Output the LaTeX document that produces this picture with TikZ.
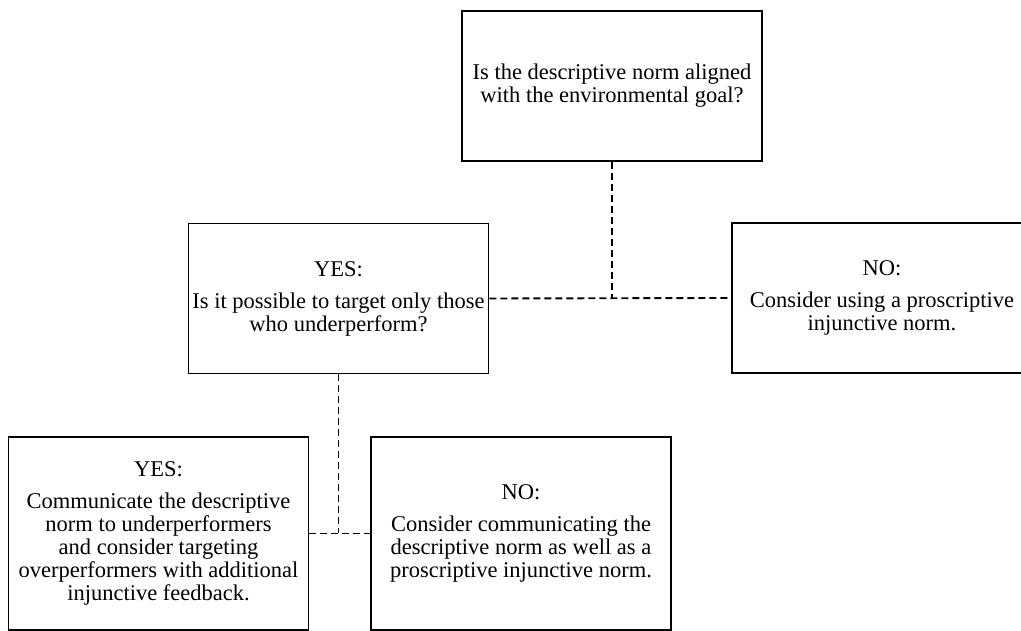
\documentclass[tikz,border=0pt]{standalone}
\usepackage{fontspec}
\setmainfont{Liberation Serif}

\begin{document}
\begin{tikzpicture}[x=1pt, y=1pt,
    box/.style = {draw, line width=1.9pt, minimum width=300pt, minimum height=150pt,
                  align=center, inner sep=2pt, font=\fontsize{22.5}{23}\selectfont},
    link/.style = {line width=1.9pt, dash pattern=on 7pt off 4pt}]
\clip (0,0) rectangle (1021,631);
\node[box] (goal) at (612,545) {Is the descriptive norm aligned\\with the environmental goal?};
\node[box] (yes1) at (338.5,332.5) {YES:\\[9pt]Is it possible to target only those\\who underperform?};
\node[box] (no1) at (882,333) {NO:\\[9pt]Consider using a proscriptive\\injunctive norm.};
\node[box, minimum height=193pt] (yes2) at (158.5,97.5)
    {YES:\\[9pt]Communicate the descriptive\\norm to underperformers\\and consider targeting\\overperformers with additional\\injunctive feedback.};
\node[box, minimum height=193pt] (no2) at (521,97.5)
    {NO:\\[9pt]Consider communicating the\\descriptive norm as well as a\\proscriptive injunctive norm.};
\draw[link] (goal.south) -- (goal.south |- yes1.east);
\draw[link] (yes1.east) -- (no1.west);
\draw[link] (yes1.south) -- (yes1.south |- yes2.east);
\draw[link] (yes2.east) -- (no2.west);
\end{tikzpicture}
\end{document}
